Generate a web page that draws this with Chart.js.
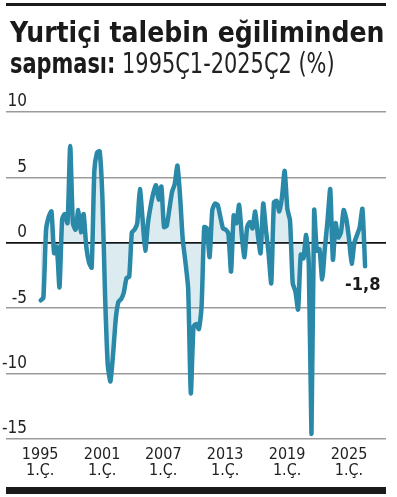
<!DOCTYPE html>
<html><head><meta charset="utf-8">
<script src="https://cdn.jsdelivr.net/npm/chart.js@4/dist/chart.umd.min.js"></script>
<style>
html,body{margin:0;padding:0;background:#fff;}
body{width:397px;height:497px;position:relative;overflow:hidden;font-family:"Liberation Sans Narrow","DejaVu Sans Condensed","Roboto Condensed",sans-serif;}
#topbar{position:absolute;left:6px;top:3px;width:380px;height:3px;background:#1a1a1a;}
#botbar{position:absolute;left:6px;top:487px;width:380px;height:7px;background:#1a1a1a;}
#title{position:absolute;left:10px;top:17px;font-size:28px;line-height:31px;color:#1a1a1a;white-space:nowrap;}
#title b{font-weight:bold;}
#line2{display:inline-block;transform:scaleX(0.83);transform-origin:0 0;}
#line2 span{font-weight:normal;color:#222;}
canvas{position:absolute;left:0;top:0;}
</style></head>
<body>
<canvas id="c" width="397" height="497"></canvas>
<div id="topbar"></div>
<div id="title"><b>Yurtiçi talebin eğiliminden</b><br><span id="line2"><b>sapması:</b> <span>1995Ç1-2025Ç2 (%)</span></span></div>
<div id="botbar"></div>
<script>
// Quarters 1995Ç1 .. 2025Ç2
const quarters = [];
for (let y = 1995; y <= 2025; y++) for (let q = 1; q <= 4; q++) { if (y === 2025 && q > 2) break; quarters.push(y + 'Ç' + q); }

// Deviation of domestic demand from trend (%)
const values = [
  -4.4, -4.2, 1.0, 2.0, 2.4, -0.8, -0.3, -3.4, 1.8, 2.2,
   1.5, 7.4, 1.5, 1.0, 2.5, 0.8, 2.2, -0.3, -1.5, -1.9,
   5.5, 6.9, 7.0, 3.5, -4.0, -9.3, -10.6, -8.5, -5.8, -4.5,
  -4.3, -3.8, -2.7, -2.6, 0.8, 1.0, 1.5, 4.1, 1.8, -0.6,
   1.5, 2.8, 3.8, 4.4, 3.3, 4.3, 1.2, 1.3, 2.6, 3.9,
   4.5, 5.9, 3.5, 0.2, -1.5, -3.5, -11.5, -6.4, -6.2, -6.6,
  -4.9, 1.2, 1.1, -1.1, 2.5, 3.0, 2.9, 2.0, 1.1, 1.0,
   0.7, -2.2, 2.1, 1.5, 2.9, 0.6, -1.1, 1.2, 1.6, 1.1,
   2.4, 0.6, -0.8, 3.0, 1.0, -0.8, -3.1, 3.1, 3.2, 2.4,
   3.5, 5.5, 2.6, 1.7, -3.1, -3.7, -5.1, -0.9, -1.2, 0.6,
  -1.6, -14.6, 2.5, -0.6, -0.5, -2.8, -0.4, 1.7, 4.1, -1.3,
   1.5, 0.4, 0.8, 2.5, 1.8, 0.3, -1.6, 0.0, 0.6, 1.2,
   2.6, -1.8
];

const yTicks = [10, 5, 0, -5, -10, -15];
const xTickLabels = [['1995','1.Ç.'], ['2001','1.Ç.'], ['2007','1.Ç.'], ['2013','1.Ç.'], ['2019','1.Ç.'], ['2025','1.Ç.']];
const xTickAt = [-0.2, 22.9, 45.7, 68.8, 91.9, 115.0];
const lastLabel = '-1,8';

const FONT = '"Liberation Sans Narrow","DejaVu Sans Condensed","Roboto Condensed",sans-serif';

const endLabel = {
  id: 'endLabel',
  afterDatasetsDraw(chart) {
    const meta = chart.getDatasetMeta(0);
    const pt = meta.data[meta.data.length - 1];
    const ctx = chart.ctx;
    ctx.save();
    ctx.font = 'bold 18px ' + FONT;
    ctx.fillStyle = '#1a1a1a';
    ctx.textAlign = 'left';
    ctx.textBaseline = 'alphabetic';
    ctx.fillText(lastLabel, pt.x - 20, pt.y + 24);
    ctx.restore();
  }
};

new Chart(document.getElementById('c'), {
  type: 'line',
  data: {
    labels: quarters,
    datasets: [{
      data: values.map((v, i) => ({x: i, y: v})),
      borderColor: '#2a89a8',
      borderWidth: 4.5,
      backgroundColor: 'rgba(42,137,168,0.17)',
      fill: 'origin',
      pointRadius: 0,
      tension: 0.2,
      borderJoinStyle: 'round',
      borderCapStyle: 'round',
      clip: false
    }]
  },
  options: {
    responsive: false,
    animation: false,
    events: [],
    layout: { padding: { left: 6, right: 11, top: 112, bottom: 18 } },
    plugins: { legend: { display: false }, tooltip: { enabled: false }, title: { display: false } },
    scales: {
      x: {
        type: 'linear',
        min: -12.95,
        max: 128.8,
        grid: { display: false },
        border: { display: false },
        afterBuildTicks(scale) { scale.ticks = xTickAt.map(v => ({ value: v })); },
        afterFit(scale) { scale.height = 40; },
        ticks: {
          autoSkip: false,
          maxRotation: 0,
          padding: 0,
          color: '#222',
          font: { family: FONT, size: 16, lineHeight: 1.0 },
          callback: (v, i) => xTickLabels[i]
        }
      },
      y: {
        min: -15,
        max: 10,
        grid: {
          drawTicks: false,
          color: ctx => ctx.tick && ctx.tick.value === 0 ? '#111' : '#9b9b9b',
          lineWidth: ctx => ctx.tick && ctx.tick.value === 0 ? 1.7 : 1.5
        },
        border: { display: false },
        afterBuildTicks(scale) { scale.ticks = yTicks.map(v => ({ value: v })); },
        afterFit(scale) { scale.width = 0; },
        ticks: {
          mirror: true,
          crossAlign: 'far',
          padding: -4,
          labelOffset: -10,
          color: '#222',
          font: { family: FONT, size: 17 },
          callback: v => String(v)
        }
      }
    }
  },
  plugins: [endLabel]
});
</script>
</body></html>
